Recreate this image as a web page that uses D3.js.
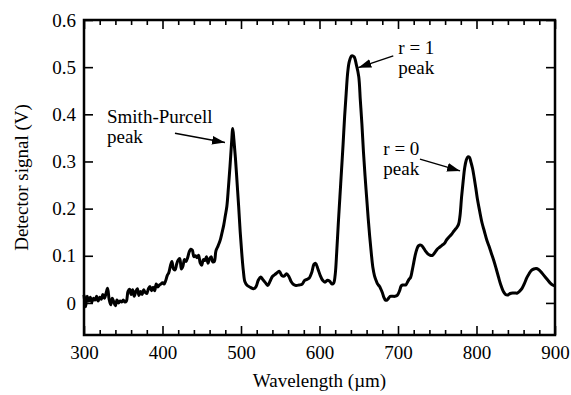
<!DOCTYPE html>
<html>
<head>
<meta charset="utf-8">
<script src="https://cdn.jsdelivr.net/npm/d3@7"></script>
<style>
  body { margin: 0; background: #fff; }
</style>
</head>
<body>
<script>
// wavelength (um) and detector signal (V)
const wavelength = [
  300,302,304,306,308,310,312,314,316,318,320,322,324,326,328,330,332,334,336,338,
  340,342,344,346,348,350,352,354,356,358,360,362,364,366,368,370,372,374,376,378,
  380,382,384,386,388,390,392,394,396,398,400,402,404,406,408,410,412,414,416,418,
  420,422,424,426,428,430,432,434,436,438,440,442,444,446,448,450,452,454,456,458,
  460,462,464,466,468,470,472,474,476,478,480,482,484,486,488,489.5,491,493,495,497,
  499,501,503,505,508,512,516,519,522,525,528,531,534,537,540,543,546,549,552,555,
  558,561,564,567,570,574,578,581,584,587,590,593,595,598,601,604,607,610,613,616,
  618,620,622,624,626,628,630,632,634,636,638,641,644,647,650,652,654,656,658,660,
  662,664,666,668,670,672,674,676,678,680,682,684,686,688,690,693,696,699,702,704,
  706,708,710,712,714,716,718,720,722,724,726,728,730,732,735,738,741,744,747,750,
  753,756,759,762,765,768,771,774,777,779,781,783,785,787,789,791,793,795,797,799,
  801,804,807,810,813,816,819,822,825,828,831,834,837,840,843,846,849,852,855,858,
  861,864,867,870,873,876,879,882,885,888,891,894,897,900
];
const signal = [
  0.017,-0.008,0.014,0.004,0.012,0.002,0.010,0.006,0.014,0.004,0.012,0.008,0.018,0.010,0.020,0.031,0.008,-0.004,0.010,0.002,
  -0.006,0.006,0.000,0.004,0.002,0.006,0.002,0.004,0.024,0.029,0.018,0.028,0.014,0.024,0.030,0.016,0.024,0.018,0.028,0.022,
  0.020,0.030,0.035,0.026,0.033,0.026,0.040,0.034,0.038,0.040,0.043,0.040,0.047,0.058,0.064,0.078,0.088,0.072,0.070,0.082,
  0.091,0.094,0.072,0.078,0.092,0.088,0.096,0.108,0.114,0.112,0.098,0.100,0.096,0.101,0.085,0.080,0.092,0.090,0.098,0.084,
  0.094,0.098,0.087,0.088,0.110,0.118,0.126,0.136,0.150,0.165,0.185,0.205,0.245,0.290,0.340,0.370,0.345,0.305,0.255,0.205,
  0.150,0.105,0.068,0.045,0.037,0.033,0.030,0.034,0.048,0.055,0.049,0.043,0.037,0.046,0.056,0.060,0.064,0.067,0.058,0.057,
  0.062,0.056,0.045,0.039,0.037,0.038,0.040,0.048,0.050,0.053,0.064,0.082,0.084,0.072,0.058,0.048,0.044,0.048,0.046,0.040,
  0.042,0.060,0.110,0.170,0.225,0.280,0.335,0.395,0.445,0.490,0.512,0.524,0.522,0.505,0.480,0.430,0.380,0.320,0.270,0.225,
  0.180,0.140,0.105,0.075,0.058,0.048,0.040,0.036,0.030,0.022,0.012,0.006,0.006,0.010,0.014,0.014,0.014,0.016,0.026,0.036,
  0.038,0.038,0.038,0.044,0.050,0.054,0.068,0.085,0.102,0.114,0.121,0.123,0.122,0.118,0.110,0.104,0.101,0.101,0.107,0.114,
  0.118,0.122,0.126,0.134,0.140,0.145,0.152,0.158,0.166,0.185,0.225,0.258,0.287,0.303,0.310,0.309,0.298,0.285,0.266,0.245,
  0.222,0.195,0.170,0.152,0.134,0.120,0.105,0.090,0.073,0.055,0.038,0.025,0.018,0.017,0.020,0.021,0.021,0.021,0.025,0.031,
  0.041,0.053,0.062,0.069,0.072,0.073,0.071,0.066,0.060,0.054,0.048,0.042,0.038,0.036
];

const xMajorTicks = [300, 400, 500, 600, 700, 800, 900];
const yMajorTicks = [0, 0.1, 0.2, 0.3, 0.4, 0.5, 0.6];
const yTickLabels = ["0", "0.1", "0.2", "0.3", "0.4", "0.5", "0.6"];

// annotation labels and arrows, in data units
const labelLines = [["Smith-Purcell", "peak"], ["r = 1", "peak"], ["r = 0", "peak"]];
const labelAt = [[329.3, 0.382], [700.4, 0.528], [681.3, 0.314]];
const arrowFrom = [[415.9, 0.360], [694.0, 0.524], [728.0, 0.305]];
const arrowTo = [[479.6, 0.340], [649.4, 0.499], [779.0, 0.280]];

const FONT = "Liberation Serif";
const margin = {top: 20, right: 16, bottom: 60, left: 84};
const width = 571 - margin.left - margin.right;
const height = 395 - margin.top - margin.bottom;

var svg = d3.select("body").append("svg")
    .attr("width", 571)
    .attr("height", 395)
    .style("font-family", FONT);

var defs = svg.append("defs");
defs.append("marker")
    .attr("id", "head")
    .attr("viewBox", "0 0 12 8")
    .attr("refX", 12)
    .attr("refY", 4)
    .attr("markerUnits", "userSpaceOnUse")
    .attr("markerWidth", 13)
    .attr("markerHeight", 9)
    .attr("orient", "auto")
  .append("path")
    .attr("d", "M0,0 L12,4 L0,8 Z")
    .attr("fill", "#000");

var g = svg.append("g")
    .attr("transform", "translate(" + margin.left + "," + margin.top + ")");

var x = d3.scaleLinear().domain([300, 900]).range([0, width]);
var y = d3.scaleLinear().domain([-0.068, 0.6]).range([height, 0]);

var xMinor = d3.range(300, 901, 20).filter(function(v) { return v % 100 !== 0; });

function styleAxis(sel) {
  sel.attr("font-family", FONT).attr("font-size", 19);
  sel.select(".domain").remove();
  sel.selectAll("line").attr("stroke", "#000").attr("stroke-width", 1.6);
  sel.selectAll("text").attr("fill", "#000").style("font-family", FONT).style("font-size", "19px");
}

// bottom axis: major with labels, minor without
g.append("g")
    .attr("transform", "translate(0," + height + ")")
    .call(d3.axisBottom(x).tickValues(xMajorTicks).tickSizeInner(-9).tickSizeOuter(0).tickPadding(11).tickFormat(d3.format("d")))
    .call(styleAxis);
g.append("g")
    .attr("transform", "translate(0," + height + ")")
    .call(d3.axisBottom(x).tickValues(xMinor).tickSizeInner(-5).tickSizeOuter(0).tickFormat(""))
    .call(styleAxis);

// top axis mirrors the ticks
g.append("g")
    .call(d3.axisTop(x).tickValues(xMajorTicks).tickSizeInner(-9).tickSizeOuter(0).tickFormat(""))
    .call(styleAxis);
g.append("g")
    .call(d3.axisTop(x).tickValues(xMinor).tickSizeInner(-5).tickSizeOuter(0).tickFormat(""))
    .call(styleAxis);

g.append("g")
    .call(d3.axisLeft(y).tickValues(yMajorTicks).tickSizeInner(-9).tickSizeOuter(0).tickPadding(8)
      .tickFormat(function(d, i) { return yTickLabels[i]; }))
    .call(styleAxis);
g.append("g")
    .attr("transform", "translate(" + width + ",0)")
    .call(d3.axisRight(y).tickValues(yMajorTicks).tickSizeInner(-9).tickSizeOuter(0).tickFormat(""))
    .call(styleAxis);

// frame
g.append("rect")
    .attr("width", width)
    .attr("height", height)
    .attr("fill", "none")
    .attr("stroke", "#000")
    .attr("stroke-width", 2.5);

var line = d3.line()
    .x(function(d, i) { return x(wavelength[i]); })
    .y(function(d) { return y(d); })
    .curve(d3.curveCatmullRom.alpha(0.5));

g.append("path")
    .datum(signal)
    .attr("d", line)
    .attr("fill", "none")
    .attr("stroke", "#000")
    .attr("stroke-width", 3)
    .attr("stroke-linejoin", "round");

// annotations
labelLines.forEach(function(lines, i) {
  var t = g.append("text")
      .attr("x", x(labelAt[i][0]))
      .attr("y", y(labelAt[i][1]))
      .style("font-family", FONT)
      .style("font-size", "19px");
  lines.forEach(function(s, j) {
    t.append("tspan")
        .attr("x", x(labelAt[i][0]))
        .attr("dy", j === 0 ? 0 : 20.5)
        .text(s);
  });
  g.append("line")
      .attr("x1", x(arrowFrom[i][0]))
      .attr("y1", y(arrowFrom[i][1]))
      .attr("x2", x(arrowTo[i][0]))
      .attr("y2", y(arrowTo[i][1]))
      .attr("stroke", "#000")
      .attr("stroke-width", 1.5)
      .attr("marker-end", "url(#head)");
});

svg.append("text")
    .attr("x", margin.left + width / 2)
    .attr("y", 387)
    .attr("text-anchor", "middle")
    .style("font-family", FONT)
    .style("font-size", "19px")
    .text("Wavelength (\u00b5m)");

svg.append("text")
    .attr("transform", "translate(28," + (margin.top + height / 2) + ") rotate(-90)")
    .attr("text-anchor", "middle")
    .style("font-family", FONT)
    .style("font-size", "19px")
    .text("Detector signal (V)");
</script>
</body>
</html>
